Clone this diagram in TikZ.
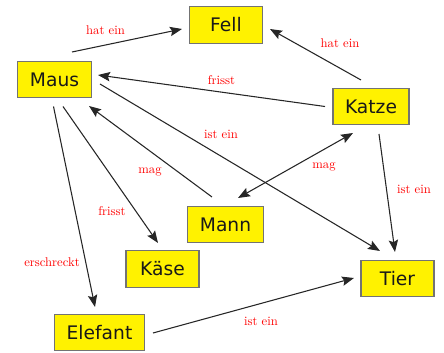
\documentclass[tikz,border=0pt]{standalone}
\usepackage{fontspec}
\newfontfamily\boxfont{DejaVu Sans}
\usetikzlibrary{arrows.meta}
\begin{document}
\begin{tikzpicture}[x=0.75pt,y=-0.75pt,
  box/.style={draw=black!55,line width=0.8pt,fill=yellow,inner xsep=9pt,inner ysep=0pt,
    minimum width=54.75pt,minimum height=27.4pt,font=\boxfont\fontsize{14}{16}\selectfont,text=black!90},
  lbl/.style={text=red,font=\fontsize{9.5}{11}\selectfont,inner sep=0pt},
  conn/.style={line width=0.8pt,black!85,-{Stealth[length=9pt,width=7pt,inset=1.5pt]}},
  biconn/.style={line width=0.8pt,black!85,{Stealth[length=9pt,width=7pt,inset=1.5pt]}-{Stealth[length=9pt,width=7pt,inset=1.5pt]}}]
\useasboundingbox (0,0) rectangle (444,353);
\node[box] (fell) at (226,25) {Fell};
\node[box] (maus) at (54.5,79.5) {Maus};
\node[box] (katze) at (371,106.5) {Katze};
\node[box] (mann) at (225.5,224.5) {Mann};
\node[box] (kaese) at (162.5,269) {Käse};
\node[box] (elefant) at (99.5,332.5) {Elefant};
\node[box] (tier) at (397.5,278.5) {Tier};
% connectors
\draw[conn] ([shift={(17.5,-27.5)}]maus.center) -- ([shift={(-44,4)}]fell.center);
\draw[conn] ([shift={(-10,-26.5)}]katze.center) -- ([shift={(44,4)}]fell.center);
\draw[conn] ([shift={(-46,0)}]katze.center) -- ([shift={(43.5,-4.5)}]maus.center);
\draw[conn] ([shift={(45.5,4.5)}]maus.center) -- ([shift={(-17.5,-27.5)}]tier.center);
\draw[conn] ([shift={(-13.5,-27.5)}]mann.center) -- ([shift={(34.5,26.5)}]maus.center);
\draw[biconn] ([shift={(12.5,-26.5)}]mann.center) -- ([shift={(-18,26.5)}]katze.center);
\draw[conn] ([shift={(8,27.5)}]katze.center) -- ([shift={(-2.5,-26.5)}]tier.center);
\draw[conn] ([shift={(8.5,27)}]maus.center) -- ([shift={(-4.5,-26)}]kaese.center);
\draw[conn] ([shift={(-1,27)}]maus.center) -- ([shift={(-4.5,-25.5)}]elefant.center);
\draw[conn] ([shift={(53.5,0.5)}]elefant.center) -- ([shift={(-43.5,-0.5)}]tier.center);
% labels
\node[lbl] (l1) at (105.5,30) {hat ein};
\node[lbl] (l2) at (340,43) {hat ein};
\node[lbl] (l3) at (221.5,80) {frisst};
\node[lbl] (l4) at (221,134) {ist ein};
\node[lbl] (l5) at (150,172) {mag};
\node[lbl] (l6) at (324,167) {mag};
\node[lbl] (l7) at (414,189) {ist ein};
\node[lbl] (l8) at (112,211) {frisst};
\node[lbl] (l9) at (52,262) {erschreckt};
\node[lbl] (l10) at (261,321) {ist ein};
\end{tikzpicture}
\end{document}
